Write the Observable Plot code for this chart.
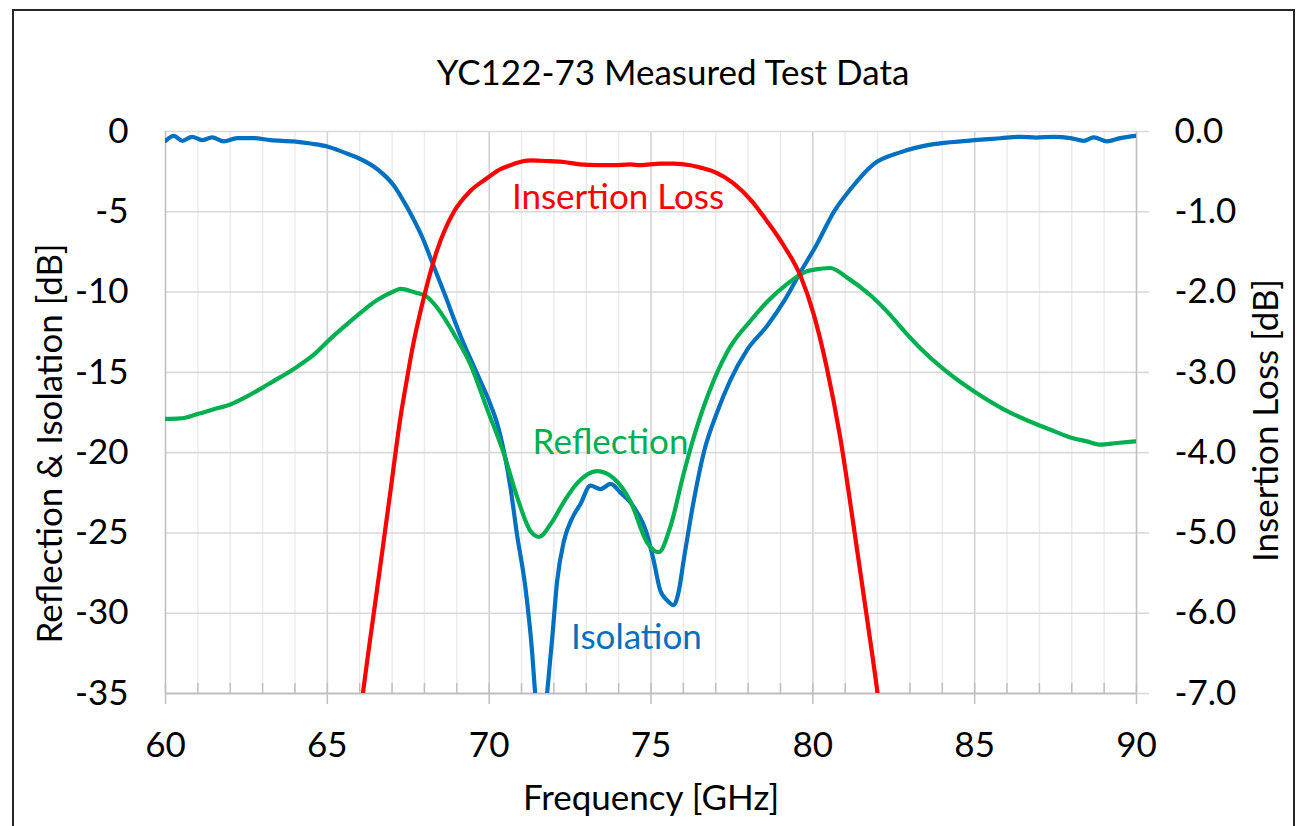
<!DOCTYPE html>
<html><head><meta charset="utf-8">
<script src="https://cdn.jsdelivr.net/npm/d3@7"></script>
<script src="https://cdn.jsdelivr.net/npm/@observablehq/plot@0.6"></script>
<style>
html,body{margin:0;padding:0;background:#fff;}
body{width:1300px;height:826px;overflow:hidden;position:relative;font-family:Lato,sans-serif;}
#frame{position:absolute;left:12px;top:9px;width:1283px;height:840px;border:2px solid #262626;box-sizing:border-box;pointer-events:none;}
#title{position:absolute;left:0;width:1346px;top:54px;text-align:center;font-size:35px;line-height:35px;color:#000;}
#chart{position:absolute;left:0;top:110px;}
</style></head>
<body>
<div id="title">YC122-73 Measured Test Data</div>
<div id="chart"></div>
<div id="frame"></div>
<script>
// Isolation [dB] (left axis)
const freqIso = [60.0,60.26,60.52,60.82,61.13,61.44,61.8,62.21,62.73,63.24,63.96,64.48,65.0,65.51,65.92,66.54,67.06,67.36,67.57,67.98,68.19,68.6,69.11,69.63,70.04,70.25,70.66,70.86,71.12,71.33,71.42,71.6,71.79,71.95,72.1,72.31,72.56,72.82,73.13,73.44,73.75,74.06,74.47,74.88,75.08,75.29,75.5,75.7,75.86,76.01,76.32,76.63,77.04,77.45,77.97,78.59,79.1,79.62,80.13,80.65,81.16,81.88,82.7,83.73,84.77,85.8,86.41,86.9,87.44,87.96,88.37,88.68,89.09,89.5,89.97];
const isolation = [-0.58,-0.27,-0.58,-0.33,-0.54,-0.37,-0.62,-0.41,-0.41,-0.54,-0.62,-0.75,-0.93,-1.3,-1.62,-2.34,-3.38,-4.35,-5.1,-6.8,-7.9,-10.0,-12.7,-15.1,-17.0,-18.2,-22.2,-25.1,-28.4,-32.5,-35.0,-40,-35.0,-31.5,-28.0,-25.5,-24.1,-23.2,-22.06,-22.27,-21.95,-22.5,-23.4,-25.1,-26.7,-28.6,-29.2,-29.5,-28.6,-26.7,-23.0,-20.0,-17.5,-15.5,-13.6,-12.1,-10.6,-8.75,-7.0,-5.0,-3.6,-2.03,-1.3,-0.79,-0.58,-0.42,-0.33,-0.38,-0.33,-0.41,-0.58,-0.37,-0.62,-0.41,-0.27];

// Reflection [dB] (left axis)
const freqRefl = [60.0,60.46,60.98,61.49,62.0,62.52,63.04,63.55,64.07,64.58,65.1,65.61,66.02,66.54,67.06,67.26,67.67,68.08,68.39,68.91,69.42,69.94,70.46,70.87,71.28,71.54,71.9,72.31,72.72,73.34,73.85,74.37,74.88,75.24,75.6,76.01,76.32,76.94,77.45,78.07,78.59,79.2,79.82,80.23,80.54,81.06,81.78,82.29,82.81,83.32,84.04,84.56,85.07,85.9,86.93,87.44,87.96,88.47,88.88,89.4,89.97];
const reflection = [-17.9,-17.87,-17.6,-17.3,-17.0,-16.5,-15.9,-15.3,-14.65,-13.9,-12.9,-12.0,-11.3,-10.5,-9.95,-9.8,-10.0,-10.3,-10.96,-12.6,-14.5,-17.3,-20.1,-22.8,-24.9,-25.25,-24.45,-23.06,-21.9,-21.15,-21.6,-23.06,-25.6,-26.2,-24.6,-21.3,-19.05,-15.5,-13.4,-11.8,-10.6,-9.5,-8.7,-8.55,-8.5,-9.1,-10.2,-11.2,-12.4,-13.5,-14.8,-15.6,-16.3,-17.3,-18.25,-18.65,-19.05,-19.3,-19.5,-19.4,-19.3];

// Insertion Loss [dB] (right axis)
const freqIL = [65.95,66.1,66.49,66.64,66.95,67.26,67.47,67.62,67.98,68.39,68.91,69.42,69.83,70.04,70.35,70.66,70.87,71.28,71.89,72.31,72.8,73.34,73.85,74.37,74.67,75.29,75.7,76.22,76.53,76.94,77.56,78.1,78.59,79.1,79.62,80.03,80.42,80.85,81.27,81.68,82.0,82.15];
const insertionLoss = [-7.5,-7.0,-5.84,-5.4,-4.48,-3.56,-3.06,-2.72,-2.07,-1.48,-1.0,-0.74,-0.61,-0.55,-0.47,-0.42,-0.39,-0.36,-0.37,-0.38,-0.41,-0.42,-0.42,-0.41,-0.42,-0.40,-0.40,-0.42,-0.45,-0.50,-0.65,-0.86,-1.12,-1.42,-1.8,-2.28,-2.92,-3.82,-4.94,-6.08,-7.0,-7.5];

// Axes
const xMajorTicks = [60,65,70,75,80,85,90];
const xMinorTicks = d3.range(60, 91, 1);
const yLeftTicks = [0,-5,-10,-15,-20,-25,-30,-35];
const yRightTicks = [0,-1,-2,-3,-4,-5,-6,-7];
const ilScale = 5; // right axis value * 5 = left axis value

// Annotations
const labelText = ["Insertion Loss","Reflection","Isolation"];
const labelFreq = [73.98, 73.75, 74.55];
const labelDb = [-4.15, -19.41, -31.55];
const labelColor = ["#FF0000","#00B050","#0070C0"];

const isoData = freqIso.map((f,i)=>({f, v: isolation[i]}));
const reflData = freqRefl.map((f,i)=>({f, v: reflection[i]}));
const ilData = freqIL.map((f,i)=>({f, v: insertionLoss[i]}));
const labels = labelText.map((t,i)=>({t, f: labelFreq[i], v: labelDb[i], c: labelColor[i]}));

const FS = 35;
const LW = 4.2;
const chart = Plot.plot({
  width: 1300,
  height: 716,
  marginTop: 21,
  marginBottom: 133,
  marginLeft: 165,
  marginRight: 164,
  style: {fontFamily: "Lato, sans-serif", fontSize: FS + "px", background: "transparent", overflow: "visible", color: "#000"},
  x: {domain: [60, 90], axis: null},
  y: {domain: [-35, 0], axis: null},
  marks: [
    Plot.ruleX(xMinorTicks.filter(d => d % 5 !== 0), {stroke: "#ebebeb", strokeWidth: 1.4}),
    Plot.ruleX(xMajorTicks.filter(d => d > 60 && d < 90), {stroke: "#d3d3d3", strokeWidth: 1.6}),
    Plot.ruleY(yLeftTicks.filter(d => d > -35), {stroke: "#d9d9d9", strokeWidth: 1.6}),
    Plot.ruleX(xMinorTicks, {y1: -35, y2: -34.38, stroke: "#bfbfbf", strokeWidth: 1.5}),
    Plot.ruleX([60, 90], {stroke: "#bfbfbf", strokeWidth: 1.6}),
    Plot.ruleY([-35], {stroke: "#bfbfbf", strokeWidth: 2}),
    Plot.axisX(xMajorTicks, {anchor: "bottom", label: null, tickSize: 11, tickPadding: 28, stroke: "#bfbfbf", strokeWidth: 1.5, fill: "#000", fontSize: FS, tickFormat: d => String(d)}),
    Plot.axisY(yLeftTicks, {anchor: "left", label: null, tickSize: 0, tickPadding: 37, fill: "#000", fontSize: FS, tickFormat: d => String(d)}),
    Plot.axisY(yRightTicks.map(d => d * ilScale), {anchor: "right", label: null, tickSize: 12, tickPadding: 26, stroke: "#d9d9d9", strokeWidth: 1.6, fill: "#000", fontSize: FS, tickFormat: d => (d / ilScale).toFixed(1)}),
    Plot.line(isoData, {x: "f", y: "v", stroke: "#0070C0", strokeWidth: LW, curve: "monotone-x", clip: true}),
    Plot.line(reflData, {x: "f", y: "v", stroke: "#00B050", strokeWidth: LW, curve: "monotone-x", clip: true}),
    Plot.line(ilData, {x: "f", y: d => d.v * ilScale, stroke: "#FF0000", strokeWidth: LW, curve: "monotone-x", clip: true}),
    Plot.text(labels, {x: "f", y: "v", text: "t", fill: "c", fontSize: FS, textAnchor: "middle", lineAnchor: "middle"}),
    Plot.text(["Reflection & Isolation [dB]"], {frameAnchor: "left", rotate: -90, dx: -115, dy: 31, fontSize: FS, textAnchor: "middle", lineAnchor: "middle", fill: "#000"}),
    Plot.text(["Insertion Loss [dB]"], {frameAnchor: "right", rotate: -90, dx: 130, dy: 8, fontSize: FS, textAnchor: "middle", lineAnchor: "middle", fill: "#000"}),
    Plot.text(["Frequency [GHz]"], {frameAnchor: "bottom", dy: 105, fontSize: FS, textAnchor: "middle", lineAnchor: "middle", fill: "#000"})
  ]
});
document.getElementById("chart").appendChild(chart);
</script>
</body></html>
